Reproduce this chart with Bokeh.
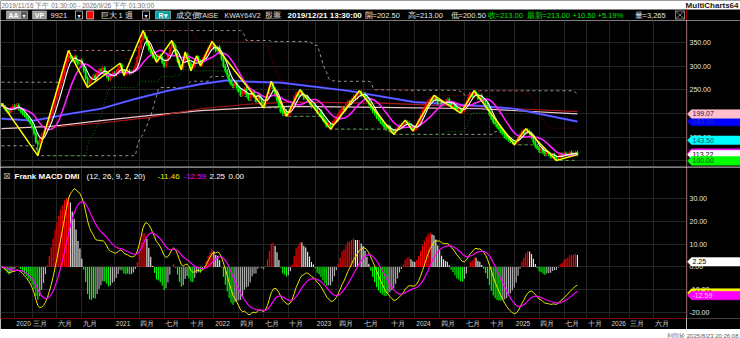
import numpy as np
import pandas as pd
from datetime import date
from bokeh.plotting import figure
from bokeh.layouts import column, row
from bokeh.models import Range1d, FixedTicker, ColumnDataSource, Grid, LinearAxis
from bokeh.core.properties import value
from bokeh.embed import file_html
from bokeh.resources import INLINE

# ---------------- data ----------------
START = date(2019, 11, 16)

closes = [
    218, 214, 208, 205, 202.5, 213, 216, 212, 218, 210,
    205, 200, 196, 192, 186, 180, 170, 158, 140, 135,
    148, 155, 160, 170, 178, 190, 200, 212, 228, 240,
    255, 268, 282, 300, 312, 322, 318, 312, 320, 310,
    305, 312, 300, 290, 275, 262, 268, 275, 280, 272,
    285, 292, 290, 296, 286, 278, 272, 280, 285, 282,
    290, 296, 302, 290, 282, 286, 290, 285, 288, 292,
    300, 318, 338, 355, 368, 360, 345, 335, 328, 320,
    318, 312, 322, 318, 308, 300, 312, 325, 338, 348,
    342, 325, 310, 300, 296, 310, 325, 320, 305, 296,
    300, 312, 318, 310, 305, 315, 322, 330, 338, 342,
    345, 338, 332, 340, 328, 315, 300, 290, 282, 270,
    262, 258, 265, 255, 248, 240, 245, 252, 240, 232,
    238, 245, 236, 228, 240, 232, 222, 218, 228, 242,
    255, 262, 252, 240, 228, 215, 205, 200, 205, 198,
    202, 210, 222, 235, 242, 238, 245, 240, 232, 236,
    228, 222, 215, 218, 210, 202, 205, 196, 188, 182,
    175, 178, 172, 180, 185, 192, 198, 205, 212, 208,
    218, 225, 222, 230, 236, 232, 240, 245, 238, 242,
    235, 228, 220, 212, 205, 200, 192, 188, 182, 178,
    172, 168, 172, 165, 162, 160, 166, 170, 175, 172,
    178, 182, 180, 176, 170, 166, 168, 175, 185, 195,
    205, 212, 220, 226, 230, 228, 234, 228, 222, 225,
    218, 222, 226, 230, 222, 215, 218, 212, 208, 210,
    205, 206, 215, 225, 235, 240, 236, 244, 240, 232,
    238, 230, 226, 220, 210, 198, 190, 182, 178, 172,
    168, 162, 158, 152, 148, 145, 142, 140, 138, 142,
    150, 156, 162, 158, 165, 162, 158, 150, 140, 132,
    128, 122, 126, 118, 115, 118, 114, 110, 113, 108,
    105, 110, 114, 110, 116, 112, 114, 118, 114, 116,
    118, 113.22,
]
FIRST_OPEN = 220.0

# zigzag pivots (week index, price, kind)
piv_w = [0, 19, 35, 45, 62, 64, 74, 81, 89, 94, 96, 99, 102, 104, 110, 137, 141, 149,
         156, 172, 187, 205, 211, 215, 226, 240, 247, 268, 274, 290, 301]
piv_v = [222, 111, 333, 255, 306, 280, 375, 308, 354, 292, 330, 290, 322, 300, 352, 212, 268, 194,
         250, 167, 248, 156, 186, 163, 238, 201, 248, 134, 168, 101, 113.22]
piv_k = ["H", "L", "H", "L", "H", "L", "H", "L", "H", "L", "H", "L", "H", "L", "H", "L", "H", "L",
         "H", "L", "H", "L", "H", "L", "H", "L", "H", "L", "H", "L", "C"]

# bar shown in the header (2019/12/21): high / low
hdr_high = {5: 213.0}
hdr_low = {5: 200.5}

# 52-week channel levels carried from before the chart start
PRIOR_HI52 = 266.0
PRIOR_LO52 = 132.0

# long moving averages
blue_w = [0, 17, 35, 52, 70, 87, 104, 118, 130, 146, 181, 216, 250, 268, 301]
blue_v = [189, 185, 199, 210, 231, 248, 262, 270, 267, 265, 248, 224, 216, 210, 183]
pink_w = [0, 26, 52, 78, 104, 130, 151, 198, 250, 301]
pink_v = [168, 173, 185, 196, 206, 212, 215, 213, 210, 199.07]
dred_w = [26, 52, 78, 104, 130, 151, 198, 250, 301]
dred_v = [171, 180, 192, 210, 220, 224, 222, 214, 204]

# value flags on the right price scale (value, fill, text colour), drawn in this order
price_flags = [(183.00, "#0000ff", "#2828c8"),
               (199.07, "#ffc0cb", "#301060"),
               (143.50, "#00ffff", "#004a6a"),
               (116.50, "#ff00ff", "#ffd0ff"),
               (113.22, "#ffffff", "#000000"),
               (100.00, "#00ff00", "#004000")]
macd_flags = [(2.25, "#ffffff", "#000000"),
              (-11.46, "#ffff00", "#404000"),
              (-12.59, "#ff00ff", "#ffd0ff")]

tick_dates = ["2020-01-04", "2020-03-07", "2020-06-06", "2020-09-05",
              "2021-01-02", "2021-04-03", "2021-07-03", "2021-10-02",
              "2022-01-01", "2022-04-02", "2022-07-02", "2022-10-01",
              "2023-01-07", "2023-04-01", "2023-07-01", "2023-10-07",
              "2024-01-06", "2024-04-06", "2024-07-06", "2024-10-05",
              "2025-01-04", "2025-04-05", "2025-07-05", "2025-09-27",
              "2025-12-20", "2026-02-28", "2026-05-30"]
tick_labels = ["2020", "三月", "六月", "九月",
               "2021", "四月", "七月", "十月",
               "2022", "四月", "七月", "十月",
               "2023", "四月", "七月", "十月",
               "2024", "四月", "七月", "十月",
               "2025", "四月", "七月", "十月",
               "2026", "三月", "六月"]

price_ticks = [100, 150, 200, 250, 300, 350]
macd_ticks = [-20, -10, 0, 10, 20, 30]

# ---------------- derived series ----------------
c = np.array(closes, dtype=float)
n = len(c)
x = np.arange(n, dtype=float)
o = np.empty(n)
o[0] = FIRST_OPEN
o[1:] = c[:-1]
WICK = 4.0
h = np.maximum(o, c) + WICK
l = np.minimum(o, c) - WICK
for w, v, k in zip(piv_w, piv_v, piv_k):
    if k == "H":
        h[w] = v
    elif k == "L":
        l[w] = v
for w, v in hdr_high.items():
    h[w] = v
for w, v in hdr_low.items():
    l[w] = v

s = pd.Series(c)
ma_w = s.rolling(5, min_periods=1).mean().values
ma_m = s.rolling(13, min_periods=1).mean().values

hi52 = np.array([max(h[max(0, i - 51):i + 1].max(), PRIOR_HI52 if i < 51 else -1e9) for i in range(n)])
lo52 = np.array([min(l[max(0, i - 51):i + 1].min(), PRIOR_LO52 if i < 51 else 1e9) for i in range(n)])
hi26 = pd.Series(h).rolling(26).max().values
lo26 = pd.Series(l).rolling(26).min().values

ema12 = s.ewm(span=12, adjust=False).mean()
ema26 = s.ewm(span=26, adjust=False).mean()
dif = (ema12 - ema26).values
dea = pd.Series(dif).ewm(span=9, adjust=False).mean().values
hist = 2 * (dif - dea)
prev = np.r_[hist[0], hist[:-1]]
hcol = np.where(hist >= 0,
                np.where(hist >= prev, "#ff0000", "#e8e8e8"),
                np.where(hist <= prev, "#00ff00", "#b0b0b0"))

t0 = pd.Timestamp(START)
tick_x = [(pd.Timestamp(d) - t0).days / 7.0 for d in tick_dates]

# ---------------- layout helpers ----------------
FONT = "Liberation Sans"
W = 740
FRAME_W = 686
SIDE_W = W - FRAME_W
XR0, XR1 = -0.5, 358.0
PXW = FRAME_W / (XR1 - XR0)

H_PRICE = 147
H_MACD = 153
AX_H = 9
PY0, PY1 = 86.1, 396.2
MY0, MY1 = -22.7, 43.8
TL_SIZE = 6.5  # time label font size, px
SEP_Y = PY1 - 146.5 * (PY1 - PY0) / H_PRICE  # panel separator, just above the MACD pane


def pw(px):
    return XR0 + px / PXW


def mkfig(ww, hh, xr, yr, bg="black", bottom=0):
    p = figure(width=ww, height=hh, x_range=xr, y_range=yr, output_backend="svg",
               toolbar_location=None, x_axis_location=None, y_axis_location=None,
               min_border=0, min_border_left=0, min_border_right=0,
               min_border_top=0, min_border_bottom=bottom)
    p.grid.visible = False
    p.background_fill_color = bg
    p.border_fill_color = bg
    p.outline_line_color = None
    return p


def grids(p, yticks):
    p.add_layout(Grid(dimension=0, ticker=FixedTicker(ticks=tick_x), grid_line_color="#242424"))
    p.add_layout(Grid(dimension=1, ticker=FixedTicker(ticks=yticks), grid_line_color="#242424"))


def side_scale(yr, hh, ticks, flags, bottom=0, sep_y=None):
    """Right-hand price scale: red rule, tick labels and value flags, on the shared y scale."""
    sp = mkfig(SIDE_W, hh, Range1d(0, SIDE_W), yr, bottom=bottom)
    upp = (yr.end - yr.start) / (hh - bottom)  # data units per pixel
    sp.segment(x0=[0.5], y0=[yr.start], x1=[0.5], y1=[yr.end], line_color="#a00000", line_width=1)
    sp.text(x=[3] * len(ticks), y=ticks, text=["%.2f" % t for t in ticks],
            text_font=value(FONT), text_font_size="7px", text_color="#e6e6e6", text_baseline="middle")
    hh2 = 4.3 * upp
    tip = 4.0
    for v, fill, tc in flags:
        sp.patch([1, 1 + tip, SIDE_W, SIDE_W, 1 + tip], [v, v + hh2, v + hh2, v - hh2, v - hh2],
                 fill_color=fill, line_color=fill, line_width=0.5)
        sp.text(x=[6], y=[v], text=["%.2f" % v], text_font=value(FONT), text_font_size="7px",
                text_color=tc, text_baseline="middle")
    if sep_y is not None:
        sp.segment(x0=[0], y0=[sep_y], x1=[SIDE_W], y1=[sep_y], line_color="#a8a8a8", line_width=1)
    return sp


xr = Range1d(XR0, XR1)

# ---------------- header ----------------
ph = mkfig(W, 20, Range1d(0, 740), Range1d(20, 0))
ph.quad(left=[0], right=[740], top=[0], bottom=[9], fill_color="white", line_color=None)
ph.text(x=[1], y=[4.6], text=["2019/11/16 下午 01:30:00 - 2026/9/26 下午 01:30:00"],
        text_font=value(FONT), text_font_size="6.5px", text_color="#707070", text_baseline="middle")
ph.text(x=[738], y=[4.6], text=["MultiCharts64"], text_font=value(FONT), text_font_size="8px",
        text_font_style="bold", text_color="#202020", text_baseline="middle", text_align="right")
ph.quad(left=[6, 20, 32, 155], right=[20, 27, 46, 170], top=[10.5] * 4, bottom=[18.5] * 4,
        fill_color=["#9c9c9c", "#5a5a5a", "#9c9c9c", "#00a0a0"], line_color="#c8c8c8", line_width=0.6)
ph.quad(left=[75, 142], right=[82, 149], top=[10.5] * 2, bottom=[18.5] * 2,
        fill_color="black", line_color="#c8c8c8", line_width=0.8)
ph.quad(left=[86], right=[93], top=[10.5], bottom=[18.5], fill_color="#ff0000", line_color="#c8c8c8", line_width=0.8)
ph.text(x=[13, 39, 162.5], y=[14.6] * 3, text=["AA", "VP", "R▾"], text_font=value(FONT), text_font_size="7px",
        text_font_style="bold", text_color="white", text_align="center", text_baseline="middle")
ph.text(x=[23.5, 78.5, 145.5], y=[14.6] * 3, text=["▾", "▾", "▾"], text_font=value("DejaVu Sans"),
        text_font_size="6px", text_color="white", text_align="center", text_baseline="middle")
ph.text(x=[50, 100, 118, 175, 264],
        y=[14.6] * 5,
        text=["9921", "巨大", "1 週", "成交價", "股票"],
        text_font=value(FONT), text_font_size="7.5px", text_color="#e0e0e0", text_baseline="middle")
ph.text(x=[198, 224], y=[14.6] * 2, text=["TAISE", "KWAY64V2"],
        text_font=value(FONT), text_font_size="7px", text_color="#e0e0e0", text_baseline="middle")
ph.text(x=[287], y=[14.6], text=["2019/12/21 13:30:00"], text_font=value(FONT), text_font_size="8px",
        text_font_style="bold", text_color="white", text_baseline="middle")
ph.text(x=[364, 407, 450, 634], y=[14.6] * 4, text=["開=202.50", "高=213.00", "低=200.50", "量=3,265"],
        text_font=value(FONT), text_font_size="7.5px", text_color="#e6e6e6", text_baseline="middle")
ph.text(x=[487, 526, 572, 597], y=[14.6] * 4, text=["收=213.00", "最新=213.00", "+10.50", "+5.19%"],
        text_font=value(FONT), text_font_size="7.5px", text_color="#00e000", text_baseline="middle")
ph.quad(left=[675], right=[684], top=[10.5], bottom=[18.5], fill_color=None, line_color="#a0a0a0", line_width=0.8)
ph.segment(x0=[675, 675], y0=[10.5, 18.5], x1=[684, 684], y1=[18.5, 10.5], line_color="#a0a0a0", line_width=0.8)
ph.segment(x0=[686], y0=[9], x1=[686], y1=[20], line_color="#a00000", line_width=1)

# ---------------- price panel ----------------
pyr = Range1d(PY0, PY1)
pp = mkfig(FRAME_W, H_PRICE, xr, pyr)
grids(pp, price_ticks)

pp.line(x, hi52, line_color="#9a9a9a", line_dash="3 3", line_width=1)
pp.line(x, lo52, line_color="#9a9a9a", line_dash="3 3", line_width=1)
pp.line(x, hi26, line_color="#8b0000", line_dash="1 2", line_width=1)
pp.line(x, lo26, line_color="#008000", line_dash="1 2", line_width=1)
pp.line(pink_w, pink_v, line_color="#f4c8d0", line_width=1.2)
pp.line(dred_w, dred_v, line_color="#b01818", line_width=1.2)
pp.line(blue_w, blue_v, line_color="#3a3aff", line_width=2.2)
pp.line(blue_w, blue_v, line_color="#9090ff", line_width=0.6)

up = c >= o
col = np.where(up, "#ff0000", "#00ff00")
src = ColumnDataSource(dict(x=x, h=h, l=l, top=np.maximum(o, c), bot=np.minimum(o, c), col=col))
pp.segment(x0="x", y0="l", x1="x", y1="h", source=src, line_color="col", line_width=1)
pp.vbar(x="x", width=0.75, top="top", bottom="bot", source=src, fill_color="col", line_color="col", line_width=0.5)

pp.line(x, ma_m, line_color="#ff20ff", line_width=1.6)
pp.line(x, ma_w, line_color="#ffffff", line_width=1.1)
pp.line(piv_w, piv_v, line_color="#ffff00", line_width=1.5)
pp.segment(x0=[XR0], y0=[SEP_Y], x1=[XR1], y1=[SEP_Y], line_color="#a8a8a8", line_width=1)

ps = side_scale(pyr, H_PRICE, price_ticks, price_flags, sep_y=SEP_Y)

# ---------------- MACD panel (with the time axis below) ----------------
myr = Range1d(MY0, MY1)
pm = mkfig(FRAME_W, H_MACD + AX_H, xr, myr, bottom=AX_H)
grids(pm, macd_ticks)


# time axis: labels sit just right of each period start, as in the original
def label_w(t):
    return TL_SIZE * (0.556 * len(t) if t.isdigit() else 1.0 * len(t))


lab_pos = [tx + (1.5 + label_w(t) / 2.0) / PXW for tx, t in zip(tick_x, tick_labels)]
xax = LinearAxis(ticker=FixedTicker(ticks=lab_pos),
                 major_label_overrides={p_: t for p_, t in zip(lab_pos, tick_labels)})
xax.axis_line_color = "#7a0000"
xax.major_tick_line_color = None
xax.minor_tick_line_color = None
xax.major_tick_out = 0
xax.major_tick_in = 0
xax.minor_tick_out = 0
xax.major_label_standoff = 1
xax.major_label_text_font = FONT
xax.major_label_text_font_size = "%gpx" % TL_SIZE
xax.major_label_text_color = "#d6d6d6"
pm.add_layout(xax, "below")

msrc = ColumnDataSource(dict(x=x, hist=hist, col=hcol))
pm.vbar(x="x", width=0.6, top="hist", bottom=0, source=msrc, fill_color="col", line_color=None)
pm.line(x, dif, line_color="#e8e800", line_width=1)
pm.line(x, dea, line_color="#ff00ff", line_width=1.2)


def my(py):
    return MY1 - (py - 167) * (MY1 - MY0) / H_MACD


pm.text(x=[pw(2.5)], y=[my(176)], text=["⊠"], text_font=value("DejaVu Sans"), text_font_size="9px",
        text_color="#a0a0a0", text_baseline="middle")
pm.text(x=[pw(14)], y=[my(176)], text=["Frank MACD DMI"], text_font=value(FONT), text_font_size="8px",
        text_font_style="bold", text_color="white", text_baseline="middle")
pm.text(x=[pw(86), pw(209), pw(228)], y=[my(176)] * 3, text=["(12,  26,  9,  2,  20)", "2.25", "0.00"],
        text_font=value(FONT), text_font_size="8px", text_color="white", text_baseline="middle")
pm.text(x=[pw(157)], y=[my(176)], text=["-11.46"], text_font=value(FONT), text_font_size="8px",
        text_color="#e8e800", text_baseline="middle")
pm.text(x=[pw(183)], y=[my(176)], text=["-12.59"], text_font=value(FONT), text_font_size="8px",
        text_color="#ff00ff", text_baseline="middle")

ms = side_scale(myr, H_MACD + AX_H, macd_ticks, macd_flags, bottom=AX_H)

# ---------------- bottom strip ----------------
pb = mkfig(W, 9, Range1d(0, 740), Range1d(9, 0), bg="white")
pb.text(x=[738], y=[3.9], text=["列印於 2025/8/23 20:26:08"], text_font=value(FONT),
        text_font_size="6px", text_color="#606060", text_baseline="middle", text_align="right")

layout = column(ph,
                row(pp, ps, spacing=0),
                row(pm, ms, spacing=0),
                pb, spacing=0)
open("out.html", "w").write(file_html(layout, INLINE))
